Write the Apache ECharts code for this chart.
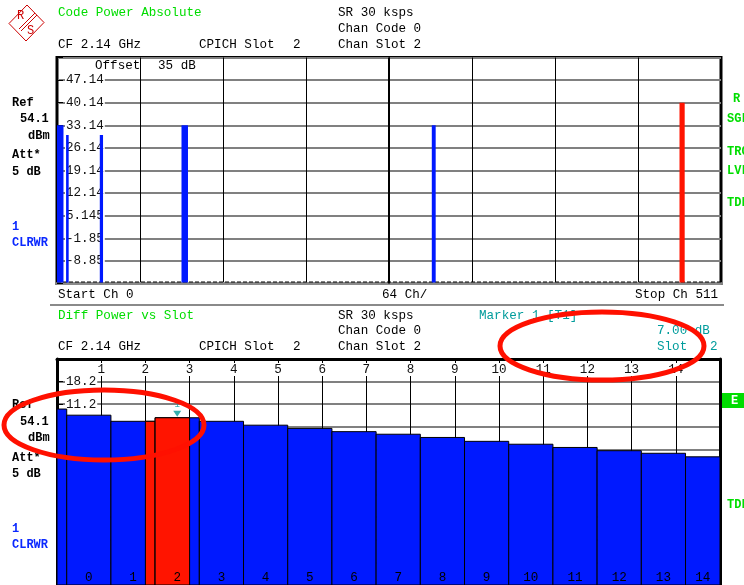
<!DOCTYPE html>
<html><head><meta charset="utf-8">
<script src="https://cdn.jsdelivr.net/npm/echarts@6/dist/echarts.min.js"></script>
<style>html,body{margin:0;padding:0;background:#fff}#c{width:744px;height:585px}</style>
</head><body><div id="c"></div>
<script>
// ---------- Upper panel: Code Power Absolute ----------
const codeStartCh  = [0, 7, 33, 96, 289, 480];
const codeEndCh    = [5, 9, 35.5, 101, 292, 484];
const codePower    = [33.14, 30.14, 30.14, 33.14, 33.14, 40.14];
const codeSelected = [0, 0, 0, 0, 0, 1];
const noiseFloor   = -15.4;
const topTickLabels = ['-8.85', '-1.85', '5.145', '12.14', '19.14', '26.14', '33.14', '40.14', '47.14'];

// ---------- Lower panel: Diff Power vs Slot ----------
const slotLabels   = ['0','1','2','3','4','5','6','7','8','9','10','11','12','13','14'];
const slotPower    = [7.8, 5.9, 7.0, 5.9, 4.7, 3.7, 2.7, 1.9, 0.9, -0.3, -1.2, -2.2, -3.2, -4.0, -5.1];
const prevSlotPower = 9.7;
const slotTimingOffset = 0.22;
const selectedSlot = 2;
const markerValue  = 7.00;
const slotAxisLabels = ['1','2','3','4','5','6','7','8','9','10','11','12','13','14'];
const bottomTickLabels = ['-37.8', '-30.8', '-23.8', '-16.8', '-9.8', '-2.8', '4.2', '11.2', '18.2'];

const TOP_MIN = -15.86, TOP_MAX = 54.14, BOT_MIN = -44.8, BOT_MAX = 25.2, STEP = 7;
const BLUE = '#0019ff', RED = '#ff1400', GREEN = '#00dd00', TEAL = '#009c9c', TBLUE = '#0a28ff';
const MONO = "'Liberation Mono','DejaVu Sans Mono',monospace";

const chart = echarts.init(document.getElementById('c'), null, {renderer: 'canvas'});

const codeData = codeStartCh.map((s, i) => [s, codeEndCh[i], codePower[i], codeSelected[i]]);
const slotSegs = [[0, slotTimingOffset, prevSlotPower, '']].concat(
  slotPower.map((v, i) => [i + slotTimingOffset, Math.min(i + 1 + slotTimingOffset, 15), v, slotLabels[i]]));

function txt(x, y, t, color, bold, size) {
  return {type: 'text', x: x, y: y, z: 50, style: {text: t, fill: color || '#000', font: (bold ? 'bold ' : '') + (size || 12.6) + 'px ' + MONO, verticalAlign: 'middle', align: 'left'}};
}
const graphics = [
  // logo
  {type: 'polygon', shape: {points: [[27, 5], [44, 22.5], [26, 41], [9, 23.5]]}, style: {fill: 'none', stroke: '#cc0000', lineWidth: 1}},
  {type: 'line', shape: {x1: 35, y1: 13, x2: 19, y2: 29}, style: {stroke: '#cc0000', lineWidth: 1}},
  {type: 'line', shape: {x1: 37, y1: 15, x2: 21, y2: 31}, style: {stroke: '#cc0000', lineWidth: 1}},
  txt(17, 16, 'R', '#cc0000', false, 12), txt(27, 31, 'S', '#cc0000', false, 12),
  // upper header
  txt(58, 13, 'Code Power Absolute', GREEN),
  txt(338, 13, 'SR 30 ksps'), txt(338, 29, 'Chan Code 0'),
  txt(58, 45, 'CF 2.14 GHz'), txt(199, 45, 'CPICH Slot'), txt(293, 45, '2'), txt(338, 45, 'Chan Slot 2'),
  txt(95, 66, 'Offset'), txt(158, 66, '35 dB'),
  // upper left/right annotations
  txt(12, 103, 'Ref', '#000', true, 12), txt(20, 119, '54.1', '#000', true, 12), txt(28, 136, 'dBm', '#000', true, 12),
  txt(12, 155, 'Att*', '#000', true, 12), txt(12, 171.5, '5 dB', '#000', true, 12),
  txt(12, 227, '1', TBLUE, true, 12), txt(12, 243, 'CLRWR', TBLUE, true, 12),
  txt(733, 99, 'R', GREEN, true, 12), txt(727, 119, 'SGL', GREEN, true, 12), txt(727, 152, 'TRG', GREEN, true, 12),
  txt(727, 171, 'LVL', GREEN, true, 12), txt(727, 203, 'TDF', GREEN, true, 12),
  // under upper plot
  txt(58, 295, 'Start Ch 0'), txt(382, 295, '64 Ch/'), txt(635, 295, 'Stop Ch 511'),
  {type: 'line', shape: {x1: 50, y1: 305, x2: 724, y2: 305}, style: {stroke: '#8a8a8a', lineWidth: 2}},
  // lower header
  txt(58, 316, 'Diff Power vs Slot', GREEN),
  txt(338, 316, 'SR 30 ksps'), txt(338, 331, 'Chan Code 0'), txt(338, 347, 'Chan Slot 2'),
  txt(58, 347, 'CF 2.14 GHz'), txt(199, 347, 'CPICH Slot'), txt(293, 347, '2'),
  txt(479, 316, 'Marker 1 [T1]', TEAL), txt(657, 331, '7.00 dB', TEAL), txt(657, 347, 'Slot', TEAL), txt(710, 347, '2', TEAL),
  // lower left/right annotations
  txt(12, 405, 'Ref', '#000', true, 12), txt(20, 421.5, '54.1', '#000', true, 12), txt(28, 438, 'dBm', '#000', true, 12),
  txt(12, 458, 'Att*', '#000', true, 12), txt(12, 474, '5 dB', '#000', true, 12),
  txt(12, 529, '1', TBLUE, true, 12), txt(12, 545, 'CLRWR', TBLUE, true, 12),
  {type: 'rect', shape: {x: 722, y: 393, width: 22, height: 15}, style: {fill: GREEN}, z: 50},
  txt(731, 400.5, 'E', '#fff', true, 12),
  txt(727, 505, 'TDF', GREEN, true, 12),
  // red ellipse annotations
  {type: 'ellipse', shape: {cx: 602, cy: 346, rx: 102, ry: 34}, style: {fill: 'none', stroke: '#ff1000', lineWidth: 5}, z: 100},
  {type: 'ellipse', shape: {cx: 104, cy: 425, rx: 100, ry: 35}, style: {fill: 'none', stroke: '#ff1000', lineWidth: 5}, z: 100}
];

const labelStyle = {inside: true, color: '#111', fontFamily: MONO, fontSize: 12.6, backgroundColor: '#fff', padding: [0, 1]};

const option = {
  animation: false,
  backgroundColor: '#fff',
  grid: [
    {left: 57, top: 57.5, width: 664, height: 226, show: true, borderColor: '#000', borderWidth: 3, outerBoundsMode: 'none', containLabel: false},
    {left: 57, top: 359, width: 663, height: 226, show: false, outerBoundsMode: 'none', containLabel: false}
  ],
  xAxis: [
    {gridIndex: 0, type: 'value', min: 0, max: 512, interval: 64,
      axisLine: {show: true, onZero: false, lineStyle: {color: '#8a8a8a', width: 3}}, axisTick: {show: false}, axisLabel: {show: false},
      splitLine: {show: true, lineStyle: {color: '#000', width: 1}}},
    {gridIndex: 1, type: 'value', min: 0, max: 15, interval: 1, position: 'top',
      axisLine: {show: true, onZero: false, lineStyle: {color: '#000', width: 3}}, axisTick: {show: false},
      axisLabel: Object.assign({}, labelStyle, {margin: 4, formatter: v => slotAxisLabels[Math.round(v) - 1] || ''}),
      splitLine: {show: true, lineStyle: {color: '#000', width: 1}}}
  ],
  yAxis: [
    {gridIndex: 0, type: 'value', min: TOP_MIN, max: TOP_MAX, interval: STEP,
      axisLine: {show: false, onZero: false}, axisTick: {show: true, inside: true, length: 6, lineStyle: {color: '#000'}},
      axisLabel: Object.assign({}, labelStyle, {margin: 8, formatter: v => topTickLabels[Math.round((v - TOP_MIN) / STEP) - 1] || ''}),
      splitLine: {show: true, lineStyle: {color: '#808080', width: 2}}},
    {gridIndex: 1, type: 'value', min: BOT_MIN, max: BOT_MAX, interval: STEP,
      axisLine: {show: true, onZero: false, lineStyle: {color: '#000', width: 3}}, axisTick: {show: true, inside: true, length: 6, lineStyle: {color: '#000'}},
      axisLabel: Object.assign({}, labelStyle, {margin: 8, formatter: v => bottomTickLabels[Math.round((v - BOT_MIN) / STEP) - 1] || ''}),
      splitLine: {show: true, lineStyle: {color: '#808080', width: 2}}},
    {gridIndex: 1, type: 'value', min: BOT_MIN, max: BOT_MAX, interval: STEP, position: 'right',
      axisLine: {show: true, onZero: false, lineStyle: {color: '#000', width: 3}}, axisTick: {show: false}, axisLabel: {show: false}, splitLine: {show: false}}
  ],
  series: [
    {type: 'line', xAxisIndex: 0, yAxisIndex: 0, z: 1, symbol: 'none', silent: true,
      data: [[0, noiseFloor], [512, noiseFloor]], lineStyle: {color: '#000', width: 1, type: [4, 2]},
      markLine: {silent: true, symbol: ['none', 'none'], label: {show: false}, lineStyle: {color: '#000', width: 2, type: 'solid'}, data: [{xAxis: 256}]}},
    {type: 'custom', xAxisIndex: 0, yAxisIndex: 0, z: 3, data: codeData, encode: {x: [0, 1], y: 2},
      renderItem: function (params, api) {
        const tl = api.coord([api.value(0), api.value(2)]);
        const br = api.coord([api.value(1), TOP_MIN]);
        return {type: 'rect', shape: {x: tl[0], y: tl[1], width: br[0] - tl[0], height: br[1] - tl[1] - 1}, style: {fill: api.value(3) ? RED : BLUE}};
      }},
    {type: 'custom', xAxisIndex: 1, yAxisIndex: 1, z: 3, data: slotSegs.map(s => [s[0], s[1], s[2]]), encode: {x: [0, 1], y: 2},
      renderItem: function (params, api) {
        const s = api.value(0), e = api.value(1), v = api.value(2);
        const lab = slotSegs[params.dataIndex][3];
        const tl = api.coord([s, v]), br = api.coord([e, BOT_MIN]);
        const ch = [{type: 'rect', shape: {x: tl[0], y: tl[1], width: br[0] - tl[0], height: br[1] - tl[1]}, style: {fill: BLUE, stroke: '#000', lineWidth: 1}}];
        const hs = Math.max(s, selectedSlot), he = Math.min(e, selectedSlot + 1);
        if (he > hs) {
          const a = api.coord([hs, v]), b = api.coord([he, BOT_MIN]);
          ch.push({type: 'rect', shape: {x: a[0], y: a[1], width: b[0] - a[0], height: b[1] - a[1]}, style: {fill: RED, stroke: '#000', lineWidth: 1}});
        }
        if (lab !== '') {
          ch.push({type: 'text', style: {text: lab, x: (tl[0] + br[0]) / 2, y: br[1] - 7, align: 'center', verticalAlign: 'middle', font: '12.6px ' + MONO, fill: '#000'}});
        }
        return {type: 'group', children: ch};
      }},
    {type: 'scatter', xAxisIndex: 1, yAxisIndex: 1, z: 5, silent: true,
      data: [[selectedSlot + slotTimingOffset + 0.5, markerValue]],
      symbol: 'triangle', symbolRotate: 180, symbolSize: [8, 6], symbolOffset: [0, -4],
      itemStyle: {color: TEAL},
      label: {show: true, formatter: '1', position: 'top', distance: 2, color: TEAL, fontSize: 9, fontFamily: MONO}}
  ],
  graphic: graphics
};
chart.setOption(option);
</script>
</body></html>
